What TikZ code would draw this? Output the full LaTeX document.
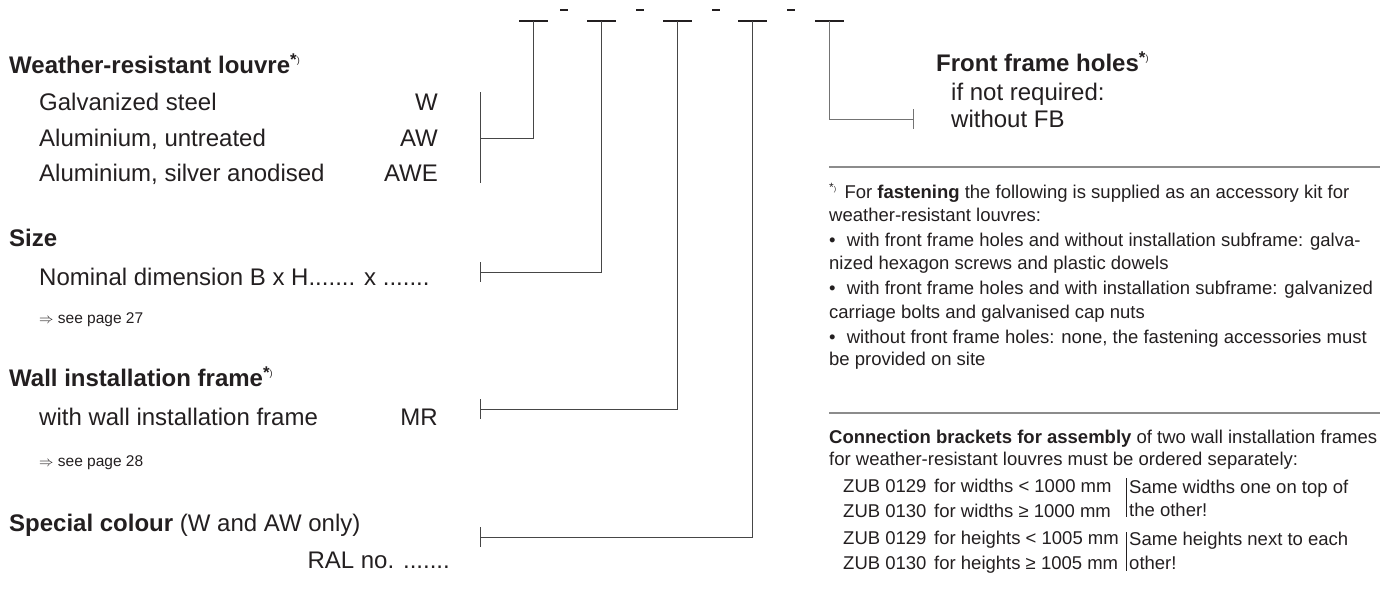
\documentclass[tikz,border=0pt]{standalone}
\usepackage{fontspec}
\setmainfont{Liberation Sans}
\definecolor{txt}{RGB}{35,31,32}
\definecolor{lnk}{RGB}{70,70,70}
\definecolor{sepc}{RGB}{140,140,140}
\newcommand{\fnmark}{\raisebox{0.34em}{\fontsize{17}{17}\selectfont\bfseries*\raisebox{0.08em}{\fontsize{9}{9}\selectfont\mdseries)}}}
\newcommand{\fnsmall}{\raisebox{0.36em}{\fontsize{12}{12}\selectfont*\fontsize{7}{7}\selectfont)}}
\begin{document}
\begin{tikzpicture}[x=1pt,y=-1pt,
  big/.style={inner sep=0pt, text=txt, font=\fontsize{24}{28}\selectfont},
  bighead/.style={inner sep=0pt, text=txt, font=\fontsize{24}{28}\selectfont\bfseries},
  note/.style={inner sep=0pt, text=txt, font=\fontsize{18.5}{22}\selectfont},
  ref/.style={inner sep=0pt, text=txt, font=\fontsize{15.5}{18}\selectfont},
  codebar/.style={line width=1.6pt, draw=txt},
  dashmark/.style={line width=2.8pt, draw=txt},
  link/.style={line width=1pt, draw=lnk},
  rule/.style={line width=2pt, draw=sepc},
  vbar/.style={line width=1pt, draw=txt}]
\useasboundingbox (0,0) rectangle (1391,608);

% ---- code line at top
\foreach \i/\x in {1/533,2/601,3/677,4/752,5/829}{
  \coordinate (bar\i) at (\x,21);
  \draw[codebar] (\x-14,21) -- (\x+15,21);
}
\foreach \i/\x in {1/564,2/640,3/716,4/791}{
  \draw[dashmark] (\x-4,10) -- (\x+4,10);
}

% ---- left column
\node[bighead, anchor=base west] (h1) at (9,73.5) {Weather-resistant louvre\fnmark};
\node[big, anchor=base west] (l1) at (39,110.5) {Galvanized steel};
\node[big, anchor=base east] (c1) at (438,110.5) {W};
\node[big, anchor=base west] (l2) at (39,146) {Aluminium, untreated};
\node[big, anchor=base east] (c2) at (438,146) {AW};
\node[big, anchor=base west] (l3) at (39,181.5) {Aluminium, silver anodised};
\node[big, anchor=base east] (c3) at (438,181.5) {AWE};

\node[bighead, anchor=base west] (h2) at (9,246.5) {Size};
\node[big, anchor=base west] (l4) at (39,285.5) {Nominal dimension B x H....... x .......};
\node[ref, anchor=base west] (r1) at (39,323.5) {$\Rightarrow$ see page 27};

\node[bighead, anchor=base west] (h3) at (9,386.5) {Wall installation frame\fnmark};
\node[big, anchor=base west] (l5) at (39,425.5) {with wall installation frame};
\node[big, anchor=base east] (c5) at (438,425.5) {MR};
\node[ref, anchor=base west] (r2) at (39,466.5) {$\Rightarrow$ see page 28};

\node[bighead, anchor=base west] (h4) at (9,531.5) {Special colour \mdseries(W and AW only)};
\node[big, anchor=base east] (l6) at (450,568.5) {RAL no. .......};

% ---- brackets and connectors
\coordinate (k1) at (480,138);
\coordinate (k2) at (480,272);
\coordinate (k3) at (480,409);
\coordinate (k4) at (480,537);
\coordinate (k5) at (913,119);
\draw[link] (480,92) -- (480,183);
\draw[link] (bar1) |- (k1);
\draw[link] (bar2) |- (k2);
\draw[link] (k2) ++(0,-10) -- ++(0,20);
\draw[link] (bar3) |- (k3);
\draw[link] (k3) ++(0,-10) -- ++(0,20);
\draw[link] (bar4) |- (k4);
\draw[link] (k4) ++(0,-10) -- ++(0,20);
\draw[link, draw=black!55] (bar5) |- (k5);
\draw[link, draw=black!55] (k5) ++(0,-10) -- ++(0,20);

% ---- right column: front frame holes
\node[bighead, anchor=base west] (h5) at (936,71.5) {Front frame holes\fnmark};
\node[big, anchor=base west] (f1) at (951,100.5) {if not required:};
\node[big, anchor=base west] (f2) at (951,127.5) {without FB};

% ---- separators
\draw[rule] (829,167) -- (1380,167);
\draw[rule] (829,412.5) -- (1380,412.5);

% ---- footnote block
\node[note, anchor=base west] (n1) at (829,198.5) {\fnsmall\hspace{0.45em}For \textbf{fastening} the following is supplied as an accessory kit for};
\node[note, anchor=base west] (n2) at (829,221.5) {weather-resistant louvres:};
\node[note, anchor=base west] (n3) at (829,246.5) {\textbullet\hspace{0.6em}with front frame holes and without installation subframe: galva-};
\node[note, anchor=base west] (n4) at (829,269.5) {nized hexagon screws and plastic dowels};
\node[note, anchor=base west] (n5) at (829,294.5) {\textbullet\hspace{0.6em}with front frame holes and with installation subframe: galvanized};
\node[note, anchor=base west] (n6) at (829,318) {carriage bolts and galvanised cap nuts};
\node[note, anchor=base west] (n7) at (829,343.5) {\textbullet\hspace{0.6em}without front frame holes: none, the fastening accessories must};
\node[note, anchor=base west] (n8) at (829,365.5) {be provided on site};

% ---- connection brackets block
\node[note, anchor=base west] (m1) at (829,443.5) {\textbf{Connection brackets for assembly} of two wall installation frames};
\node[note, anchor=base west] (m2) at (829,465.5) {for weather-resistant louvres must be ordered separately:};
\node[note, anchor=base west] (z1) at (843,492.5) {ZUB 0129};
\node[note, anchor=base west] (w1) at (934,492.5) {for widths < 1000 mm};
\node[note, anchor=base west] (z2) at (843,517.5) {ZUB 0130};
\node[note, anchor=base west] (w2) at (934,517.5) {for widths ≥ 1000 mm};
\node[note, anchor=base west] (z3) at (843,544.5) {ZUB 0129};
\node[note, anchor=base west] (w3) at (934,544.5) {for heights < 1005 mm};
\node[note, anchor=base west] (z4) at (843,569.5) {ZUB 0130};
\node[note, anchor=base west] (w4) at (934,569.5) {for heights ≥ 1005 mm};
\draw[vbar] (1126,478) -- (1126,517);
\draw[vbar] (1126,532) -- (1126,571);
\node[note, anchor=base west] (s1) at (1129,493) {Same widths one on top of};
\node[note, anchor=base west] (s2) at (1129,516.5) {the other!};
\node[note, anchor=base west] (s3) at (1129,545) {Same heights next to each};
\node[note, anchor=base west] (s4) at (1129,569.5) {other!};
\end{tikzpicture}
\end{document}
